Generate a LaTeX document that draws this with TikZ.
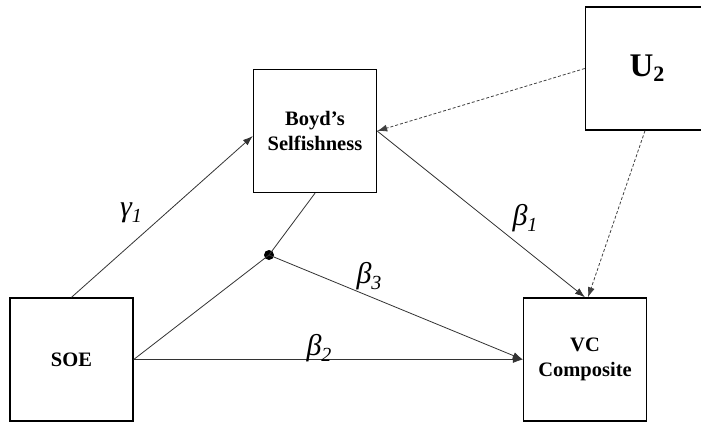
\documentclass[tikz,border=0pt]{standalone}
\usepackage{fontspec}
\setmainfont{Liberation Serif}
\usetikzlibrary{arrows.meta}
\begin{document}
\begin{tikzpicture}[x=1pt,y=-1pt,
  varbox/.style={draw=black,line width=1.4pt,minimum width=123pt,minimum height=123pt,inner sep=0pt,align=center,font=\fontsize{20.5}{25}\selectfont\bfseries},
  conn/.style={draw=black!80,line width=0.8pt},
  arr/.style={conn,-{Latex[length=10pt,width=7pt]}},
  darr/.style={draw=black!75,line width=0.8pt,dash pattern=on 3pt off 2pt,-{Latex[length=10pt,width=7pt]}},
  coef/.style={font=\fontsize{30}{34}\selectfont\itshape,inner sep=0pt},
  sub/.style={}]
\useasboundingbox (0,0) rectangle (701,423);
\fill[white] (0,0) rectangle (701,423);
\node[varbox] (boyd) at (315,131) {Boyd’s\\Selfishness};
\node[varbox] (u2) at (647,68.5) {\fontsize{33}{36}\selectfont U\raisebox{-5pt}{\fontsize{22}{24}\selectfont 2}};
\node[varbox] (soe) at (71.5,359.5) {SOE};
\node[varbox] (vc) at (585,359.5) {VC\\Composite};
\coordinate (dot) at (269,255);
\fill[black] (dot) circle (5pt);
\draw[arr] (soe.north) -- ([yshift=-5pt]boyd.west);
\draw[arr] (boyd.east) -- (vc.north);
\draw[darr] (u2.west) -- (boyd.east);
\draw[darr] ([xshift=-2pt]u2.south) -- ([xshift=3pt]vc.north);
\draw[arr] (soe.east) -- (vc.west);
\draw[conn] (soe.east) -- (dot);
\draw[conn] (boyd.south) -- (dot);
\draw[arr] (dot) -- (vc.west);
\node[coef] (g1) at (131,213) {γ\raisebox{-6pt}{\fontsize{20}{22}\selectfont 1}};
\node[coef] (b1) at (525,218) {β\raisebox{-6pt}{\fontsize{20}{22}\selectfont 1}};
\node[coef] (b3) at (369,276) {β\raisebox{-6pt}{\fontsize{20}{22}\selectfont 3}};
\node[coef] (b2) at (319,348) {β\raisebox{-6pt}{\fontsize{20}{22}\selectfont 2}};
\end{tikzpicture}
\end{document}
